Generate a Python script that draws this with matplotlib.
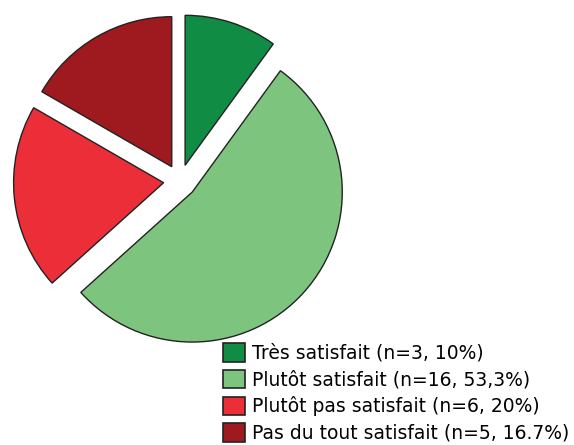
import matplotlib
matplotlib.use('Agg')
import matplotlib.pyplot as plt
from matplotlib.patches import Patch

categories = ['Très satisfait', 'Plutôt satisfait', 'Plutôt pas satisfait', 'Pas du tout satisfait']
counts = [3, 16, 6, 5]
pcts = ['10%', '53,3%', '20%', '16.7%']
colors = ['#118c45', '#7dc57f', '#ec2e38', '#9e1a1f']

W, H = 574, 445
fig = plt.figure(figsize=(W / 100, H / 100), dpi=100)

# pie centre ~ (180, 181) px, radius ~150 px
R = 150
L = 1.2
cx, cy = 180, H - 181
ax = fig.add_axes([(cx - L * R) / W, (cy - L * R) / H, 2 * L * R / W, 2 * L * R / H])
ax.pie(counts, colors=colors, startangle=90, counterclock=False,
       explode=[0.11] * 4,
       wedgeprops=dict(edgecolor='#222222', linewidth=1.0))
ax.set_xlim(-L, L)
ax.set_ylim(-L, L)
ax.set_aspect('equal')
ax.axis('off')

labels = [f'{c} (n={n}, {p})' for c, n, p in zip(categories, counts, pcts)]
handles = [Patch(facecolor=col, edgecolor='#222222', linewidth=1.2) for col in colors]
fig.legend(handles, labels, loc='upper left',
           bbox_to_anchor=(223 / W, 1 - 343 / H),
           frameon=False, fontsize=13.5, handlelength=1.18, handleheight=1.15,
           handletextpad=0.35, labelspacing=0.37, borderpad=0, borderaxespad=0)

fig.savefig('out.png', dpi=100)
